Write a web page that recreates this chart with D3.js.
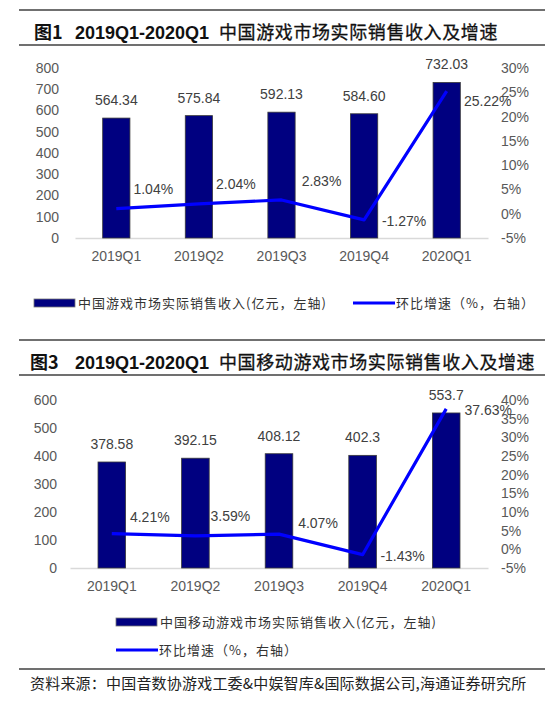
<!DOCTYPE html>
<html>
<head>
<meta charset="utf-8">
<script src="https://cdn.jsdelivr.net/npm/d3@7"></script>
<style>
  body { margin: 0; background: #fff; }
  svg { display: block; }
</style>
</head>
<body>
<div id="chart"></div>
<script>
// Data
const quarters = ["2019Q1", "2019Q2", "2019Q3", "2019Q4", "2020Q1"];

const gameRevenue = [564.34, 575.84, 592.13, 584.60, 732.03];   // 亿元
const gameGrowth = [1.04, 2.04, 2.83, -1.27, 25.22];           // %
const mobileRevenue = [378.58, 392.15, 408.12, 402.3, 553.7];  // 亿元
const mobileGrowth = [4.21, 3.59, 4.07, -1.43, 37.63];         // %

const gameLeftTicks = [0, 100, 200, 300, 400, 500, 600, 700, 800];
const gameRightTicks = [-5, 0, 5, 10, 15, 20, 25, 30];
const mobileLeftTicks = [0, 100, 200, 300, 400, 500, 600];
const mobileRightTicks = [-5, 0, 5, 10, 15, 20, 25, 30, 35, 40];

// label nudges for the growth line (px from the point)
const gameGrowthNudge = [[37, -20], [37, -20], [40, -19], [40, 1], [41, 10]];
const mobileGrowthNudge = [[38, -17], [35, -20], [39, -11], [40, 1], [42, 1]];

const W = 559, H = 702;
const latin = "'Liberation Sans', Arial, sans-serif";
const cjk = "'Noto Sans CJK SC', sans-serif";

const svg = d3.select("#chart").append("svg")
    .attr("width", W)
    .attr("height", H);

svg.append("rect").attr("width", W).attr("height", H).attr("fill", "#fff");

function drawTitle(top, num, rest) {
    svg.append("line")
        .attr("x1", 19).attr("x2", 545)
        .attr("y1", top).attr("y2", top)
        .style("stroke", "#404040").style("stroke-width", 1.6);
    svg.append("line")
        .attr("x1", 19).attr("x2", 545)
        .attr("y1", top + 35).attr("y2", top + 35)
        .style("stroke", "#404040").style("stroke-width", 1.6);

    const t = svg.append("text")
        .attr("y", top + 29)
        .style("font-size", "18px")
        .style("fill", "#111");
    t.append("tspan").attr("x", num.x)
        .style("font-family", cjk).style("font-weight", "bold")
        .text(num.text);
    t.append("tspan").attr("x", 75)
        .style("font-family", latin).style("font-weight", "bold")
        .text("2019Q1-2020Q1");
    t.append("tspan").attr("x", 219)
        .style("font-family", cjk).style("font-weight", "normal")
        .style("letter-spacing", "0.6px")
        .style("stroke", "#111").style("stroke-width", 0.3)
        .text(rest);
}

function drawChart(cfg) {
    const x = d3.scaleBand()
        .domain(quarters)
        .range([cfg.left, cfg.right])
        .paddingInner(0.67)
        .paddingOuter(0.335);

    const yL = d3.scaleLinear()
        .domain(d3.extent(cfg.leftTicks))
        .range([cfg.bottom, cfg.top]);

    const yR = d3.scaleLinear()
        .domain(d3.extent(cfg.rightTicks))
        .range([cfg.bottom, cfg.top]);

    const g = svg.append("g");

    // left axis
    const leftAxis = g.append("g")
        .attr("transform", `translate(${cfg.leftLabelX},0)`)
        .call(d3.axisLeft(yL).tickValues(cfg.leftTicks).tickSize(0).tickPadding(0));
    leftAxis.select(".domain").remove();

    // right axis
    const rightAxis = g.append("g")
        .attr("transform", `translate(501,0)`)
        .call(d3.axisRight(yR).tickValues(cfg.rightTicks).tickSize(0).tickPadding(0)
            .tickFormat(d => d + "%"));
    rightAxis.select(".domain").remove();

    g.selectAll(".tick text")
        .style("font-family", latin)
        .style("font-size", "14px")
        .style("fill", "#595959");

    // category axis
    const bottomAxis = g.append("g")
        .attr("transform", `translate(0,${cfg.bottom})`)
        .call(d3.axisBottom(x).tickSize(0).tickPadding(13));
    bottomAxis.select(".domain")
        .style("stroke", "#d9d9d9").style("stroke-width", 1.5);
    bottomAxis.selectAll("text")
        .style("font-family", latin)
        .style("font-size", "14px")
        .style("fill", "#595959");

    // bars
    g.selectAll(".bar")
        .data(cfg.revenue)
        .enter().append("rect")
        .attr("class", "bar")
        .attr("x", (d, i) => x(quarters[i]))
        .attr("width", x.bandwidth())
        .attr("y", d => yL(d))
        .attr("height", d => cfg.bottom - yL(d))
        .style("fill", "#000080")
        .style("stroke", "#3a3a3a")
        .style("stroke-width", 0.8);

    g.selectAll(".barLabel")
        .data(cfg.revenue)
        .enter().append("text")
        .attr("class", "barLabel")
        .attr("x", (d, i) => x(quarters[i]) + x.bandwidth() / 2)
        .attr("y", d => yL(d) - 13)
        .attr("text-anchor", "middle")
        .style("font-family", latin)
        .style("font-size", "14px")
        .style("fill", "#404040")
        .text(cfg.barFormat);

    // growth line
    const cx = i => x(quarters[i]) + x.bandwidth() / 2;
    const line = d3.line()
        .x((d, i) => cx(i))
        .y(d => yR(d));

    g.append("path")
        .datum(cfg.growth)
        .attr("d", line)
        .style("fill", "none")
        .style("stroke", "#0000ff")
        .style("stroke-width", 3.2)
        .style("stroke-linejoin", "round");

    g.selectAll(".lineLabel")
        .data(cfg.growth)
        .enter().append("text")
        .attr("class", "lineLabel")
        .attr("x", (d, i) => cx(i) + cfg.nudge[i][0])
        .attr("y", (d, i) => yR(d) + cfg.nudge[i][1])
        .attr("dy", "0.35em")
        .attr("text-anchor", "middle")
        .style("font-family", latin)
        .style("font-size", "14px")
        .style("fill", "#404040")
        .text(d => d.toFixed(2) + "%");
}

function legendBar(x, y, label) {
    svg.append("rect")
        .attr("x", x).attr("y", y - 4)
        .attr("width", 41).attr("height", 8)
        .style("fill", "#000080")
        .style("stroke", "#777")
        .style("stroke-width", 0.8);
    legendText(x + 44, y, label);
}

function legendLine(x, y, label) {
    svg.append("line")
        .attr("x1", x).attr("x2", x + 42)
        .attr("y1", y).attr("y2", y)
        .style("stroke", "#0000ff")
        .style("stroke-width", 3.2);
    legendText(x + 43, y, label);
}

function legendText(x, y, label) {
    svg.append("text")
        .attr("x", x).attr("y", y)
        .attr("dy", "0.35em")
        .style("font-family", cjk)
        .style("font-size", "13px")
        .style("letter-spacing", "1px")
        .style("fill", "#333")
        .text(label);
}

// Figure 1
drawTitle(10, { x: 34, text: "图1" }, "中国游戏市场实际销售收入及增速");
drawChart({
    left: 75, right: 488, top: 68, bottom: 238, leftLabelX: 59,
    leftTicks: gameLeftTicks, rightTicks: gameRightTicks,
    revenue: gameRevenue, growth: gameGrowth, nudge: gameGrowthNudge,
    barFormat: d3.format(".2f")
});
legendBar(34, 303, "中国游戏市场实际销售收入(亿元，左轴)");
legendLine(353, 303, "环比增速（%，右轴）");

// Figure 3
drawTitle(340, { x: 30, text: "图3" }, "中国移动游戏市场实际销售收入及增速");
drawChart({
    left: 70, right: 488, top: 400, bottom: 568, leftLabelX: 57,
    leftTicks: mobileLeftTicks, rightTicks: mobileRightTicks,
    revenue: mobileRevenue, growth: mobileGrowth, nudge: mobileGrowthNudge,
    barFormat: d => String(d)
});
legendBar(116, 622, "中国移动游戏市场实际销售收入(亿元，左轴)");
legendLine(116, 650, "环比增速（%，右轴）");

// source
svg.append("line")
    .attr("x1", 19).attr("x2", 545)
    .attr("y1", 669).attr("y2", 669)
    .style("stroke", "#404040").style("stroke-width", 1.6);

svg.append("text")
    .attr("x", 30).attr("y", 684)
    .attr("dy", "0.35em")
    .style("font-family", cjk)
    .style("font-size", "15px")
    .style("letter-spacing", "0.2px")
    .style("fill", "#222")
    .text("资料来源：中国音数协游戏工委&中娱智库&国际数据公司,海通证券研究所");
</script>
</body>
</html>
